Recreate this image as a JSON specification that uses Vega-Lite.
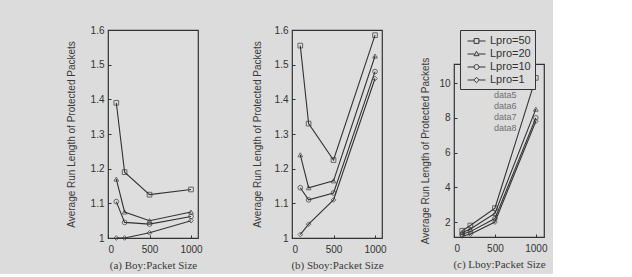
{
  "$schema": "https://vega.github.io/schema/vega-lite/v6.json",
  "background": "#dcdcdc",
  "padding": {"left": 65, "top": 24, "right": 5, "bottom": 3},
  "spacing": 48,
  "datasets": {
    "boy": [
      {"size": 100, "series": "Lpro=50", "arl": 1.39},
      {"size": 200, "series": "Lpro=50", "arl": 1.19},
      {"size": 500, "series": "Lpro=50", "arl": 1.125},
      {"size": 1000, "series": "Lpro=50", "arl": 1.14},
      {"size": 100, "series": "Lpro=20", "arl": 1.17},
      {"size": 200, "series": "Lpro=20", "arl": 1.075},
      {"size": 500, "series": "Lpro=20", "arl": 1.05},
      {"size": 1000, "series": "Lpro=20", "arl": 1.075},
      {"size": 100, "series": "Lpro=10", "arl": 1.105},
      {"size": 200, "series": "Lpro=10", "arl": 1.045},
      {"size": 500, "series": "Lpro=10", "arl": 1.04},
      {"size": 1000, "series": "Lpro=10", "arl": 1.062},
      {"size": 100, "series": "Lpro=1", "arl": 1.0},
      {"size": 200, "series": "Lpro=1", "arl": 1.0},
      {"size": 500, "series": "Lpro=1", "arl": 1.015},
      {"size": 1000, "series": "Lpro=1", "arl": 1.05}
    ],
    "sboy": [
      {"size": 100, "series": "Lpro=50", "arl": 1.555},
      {"size": 200, "series": "Lpro=50", "arl": 1.33},
      {"size": 500, "series": "Lpro=50", "arl": 1.225},
      {"size": 1000, "series": "Lpro=50", "arl": 1.585},
      {"size": 100, "series": "Lpro=20", "arl": 1.24},
      {"size": 200, "series": "Lpro=20", "arl": 1.145},
      {"size": 500, "series": "Lpro=20", "arl": 1.165},
      {"size": 1000, "series": "Lpro=20", "arl": 1.525},
      {"size": 100, "series": "Lpro=10", "arl": 1.145},
      {"size": 200, "series": "Lpro=10", "arl": 1.11},
      {"size": 500, "series": "Lpro=10", "arl": 1.13},
      {"size": 1000, "series": "Lpro=10", "arl": 1.48},
      {"size": 100, "series": "Lpro=1", "arl": 1.01},
      {"size": 200, "series": "Lpro=1", "arl": 1.04},
      {"size": 500, "series": "Lpro=1", "arl": 1.11},
      {"size": 1000, "series": "Lpro=1", "arl": 1.46}
    ],
    "lboy": [
      {"size": 100, "series": "Lpro=50", "arl": 1.5},
      {"size": 200, "series": "Lpro=50", "arl": 1.8},
      {"size": 500, "series": "Lpro=50", "arl": 2.8},
      {"size": 1000, "series": "Lpro=50", "arl": 10.3},
      {"size": 100, "series": "Lpro=20", "arl": 1.4},
      {"size": 200, "series": "Lpro=20", "arl": 1.6},
      {"size": 500, "series": "Lpro=20", "arl": 2.5},
      {"size": 1000, "series": "Lpro=20", "arl": 8.5},
      {"size": 100, "series": "Lpro=10", "arl": 1.3},
      {"size": 200, "series": "Lpro=10", "arl": 1.45},
      {"size": 500, "series": "Lpro=10", "arl": 2.2},
      {"size": 1000, "series": "Lpro=10", "arl": 8.0},
      {"size": 100, "series": "Lpro=1", "arl": 1.2},
      {"size": 200, "series": "Lpro=1", "arl": 1.3},
      {"size": 500, "series": "Lpro=1", "arl": 2.0},
      {"size": 1000, "series": "Lpro=1", "arl": 7.8}
    ],
    "extras": [
      {"name": "data5"}, {"name": "data6"}, {"name": "data7"}, {"name": "data8"}
    ],
    "empty": []
  },
  "config": {
    "font": "Liberation Sans",
    "view": {"stroke": "#333333", "strokeWidth": 1.2, "fill": "#dedede"},
    "axis": {
      "grid": false,
      "domain": false,
      "tickColor": "#333333",
      "tickSize": -3,
      "labelOverlap": false,
      "labelFont": "Liberation Sans",
      "labelFontSize": 10,
      "labelColor": "#333333",
      "titleFont": "Liberation Sans",
      "titleFontWeight": "normal",
      "titleColor": "#3a3a3a"
    },
    "axisY": {"titleFontSize": 10, "titlePadding": 8, "labelPadding": 7, "format": "~r", "tickCount": 10},
    "axisX": {"titleFont": "Liberation Serif", "titleFontSize": 11, "titlePadding": 5, "labelPadding": 9, "labelAngle": 0, "format": "d"}
  },
  "resolve": {"scale": {"shape": "independent", "fill": "independent", "y": "independent", "x": "independent"}},
  "hconcat": [
    {
      "width": 90,
      "height": 208,
      "data": {"name": "boy"},
      "layer": [
        {
          "mark": {"type": "line", "color": "#333333", "strokeWidth": 1.1},
          "encoding": {
            "x": {"field": "size", "type": "quantitative", "scale": {"domain": [0, 1084], "nice": false}, "axis": {"values": [0, 500, 1000], "title": "(a) Boy:Packet Size"}},
            "y": {"field": "arl", "type": "quantitative", "scale": {"domain": [1, 1.6], "nice": false, "zero": false}, "axis": {"values": [1, 1.1, 1.2, 1.3, 1.4, 1.5, 1.6], "tickCount": 10, "labelOverlap": false, "title": "Average Run Length of Protected Packets", "titlePadding": 14}},
            "detail": {"field": "series"}
          }
        },
        {
          "mark": {"type": "point", "filled": false, "color": "#333333", "size": 22, "strokeWidth": 1},
          "encoding": {
            "x": {"field": "size", "type": "quantitative"},
            "y": {"field": "arl", "type": "quantitative"},
            "shape": {"field": "series", "type": "nominal", "scale": {"domain": ["Lpro=50", "Lpro=20", "Lpro=10", "Lpro=1"], "range": ["square", "triangle-up", "circle", "diamond"]}, "legend": null}
          }
        }
      ]
    },
    {
      "spacing": 33,
      "resolve": {"scale": {"shape": "independent", "fill": "independent", "y": "independent", "x": "independent"}},
      "hconcat": [
        {
          "width": 90,
          "height": 208,
          "data": {"name": "sboy"},
          "layer": [
            {
              "mark": {"type": "line", "color": "#333333", "strokeWidth": 1.1},
              "encoding": {
                "x": {"field": "size", "type": "quantitative", "scale": {"domain": [0, 1084], "nice": false}, "axis": {"values": [0, 500, 1000], "title": "(b) Sboy:Packet Size"}},
                "y": {"field": "arl", "type": "quantitative", "scale": {"domain": [1, 1.6], "nice": false, "zero": false}, "axis": {"values": [1, 1.1, 1.2, 1.3, 1.4, 1.5, 1.6], "tickCount": 10, "labelOverlap": false, "title": "Average Run Length of Protected Packets", "titlePadding": 12}},
                "detail": {"field": "series"}
              }
            },
            {
              "mark": {"type": "point", "filled": false, "color": "#333333", "size": 22, "strokeWidth": 1},
              "encoding": {
                "x": {"field": "size", "type": "quantitative"},
                "y": {"field": "arl", "type": "quantitative"},
                "shape": {"field": "series", "type": "nominal", "scale": {"domain": ["Lpro=50", "Lpro=20", "Lpro=10", "Lpro=1"], "range": ["square", "triangle-up", "circle", "diamond"]}, "legend": null}
              }
            }
          ]
        },
        {
          "spacing": 33,
          "bounds": "flush",
          "resolve": {"scale": {"shape": "independent", "fill": "independent", "y": "independent", "x": "independent"}},
          "vconcat": [
            {
              "width": 90,
              "height": 1,
              "view": {"stroke": null, "fill": null},
              "data": {"name": "empty"},
              "mark": {"type": "point", "opacity": 0}
            },
            {
              "width": 90,
              "height": 173,
              "resolve": {"scale": {"shape": "independent"}},
              "layer": [
                {
                  "data": {"name": "lboy"},
                  "mark": {"type": "line", "color": "#333333", "strokeWidth": 1.1},
                  "encoding": {
                    "x": {"field": "size", "type": "quantitative", "scale": {"domain": [0, 1100], "nice": false}, "axis": {"values": [0, 500, 1000], "title": "(c) Lboy:Packet Size"}},
                    "y": {"field": "arl", "type": "quantitative", "scale": {"domain": [1.14, 11.1], "nice": false, "zero": false}, "axis": {"values": [2, 4, 6, 8, 10], "tickCount": 10, "labelOverlap": false, "title": "Average Run Length of Protected Packets"}},
                    "detail": {"field": "series"}
                  }
                },
                {
                  "data": {"name": "lboy"},
                  "mark": {"type": "point", "filled": false, "color": "#333333", "size": 22, "strokeWidth": 1},
                  "encoding": {
                    "x": {"field": "size", "type": "quantitative"},
                    "y": {"field": "arl", "type": "quantitative"},
                    "shape": {"field": "series", "type": "nominal", "scale": {"domain": ["Lpro=50", "Lpro=20", "Lpro=10", "Lpro=1"], "range": ["square", "triangle-up", "circle", "diamond"]}, "legend": null}
                  }
                },
                {
                  "data": {"name": "lboy"},
                  "mark": {"type": "point", "filled": false, "opacity": 0, "color": "#333333", "strokeWidth": 1},
                  "encoding": {
                    "x": {"field": "size", "type": "quantitative"},
                    "y": {"field": "arl", "type": "quantitative"},
                    "shape": {
                      "field": "series", "type": "nominal",
                      "scale": {
                        "domain": ["Lpro=50", "Lpro=20", "Lpro=10", "Lpro=1"],
                        "range": [
                          "M-0.53,0H0.48M1.22,0H2.23M0.48,-0.37H1.22V0.37H0.48Z",
                          "M-0.53,0H0.55M1.15,0H2.23M0.85,-0.42L1.23,0.26H0.47Z",
                          "M-0.53,0H0.47M1.23,0H2.23M0.47,0A0.38,0.38,0,1,0,1.23,0A0.38,0.38,0,1,0,0.47,0",
                          "M-0.53,0H0.43M1.27,0H2.23M0.85,-0.42L1.27,0L0.85,0.42L0.43,0Z"
                        ]
                      },
                      "legend": {
                        "title": null, "orient": "none", "legendX": 6, "legendY": -34,
                        "strokeColor": "#333333", "fillColor": "#dcdcdc", "padding": 4,
                        "labelFontSize": 11, "labelColor": "#333333", "symbolSize": 169,
                        "symbolStrokeColor": "#333333", "symbolStrokeWidth": 1, "symbolFillColor": "transparent",
                        "symbolOpacity": 1, "rowPadding": 1, "labelOffset": 12
                      }
                    }
                  }
                },
                {
                  "data": {"name": "extras"},
                  "mark": {"type": "point", "opacity": 0},
                  "encoding": {
                    "fill": {
                      "field": "name", "type": "nominal",
                      "scale": {"range": ["#888888"]},
                      "legend": {
                        "title": null, "orient": "none", "legendX": 31, "legendY": 26, "padding": 0,
                        "symbolOpacity": 0, "symbolSize": 1, "labelOffset": 0,
                        "labelFontSize": 9, "labelColor": "#707070", "rowPadding": 1
                      }
                    }
                  }
                }
              ]
            }
          ]
        }
      ]
    }
  ]
}
